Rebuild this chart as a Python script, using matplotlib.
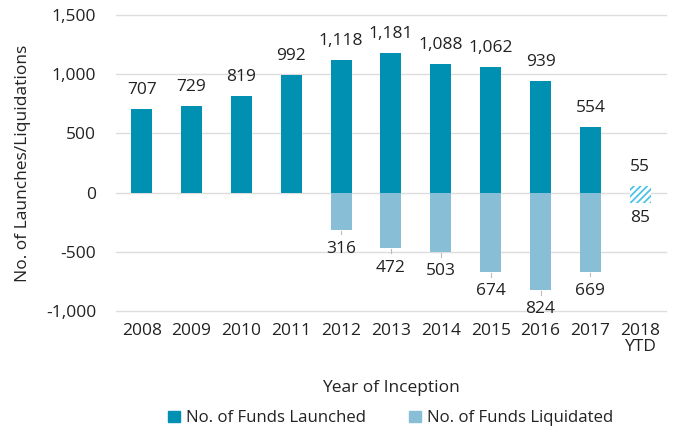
import matplotlib
matplotlib.use("Agg")
import matplotlib.pyplot as plt
import numpy as np

plt.rcParams['font.family'] = ['Open Sans', 'DejaVu Sans']
plt.rcParams['hatch.linewidth'] = 1.3

years = ['2008', '2009', '2010', '2011', '2012', '2013', '2014', '2015', '2016', '2017', '2018\nYTD']
launched = [707, 729, 819, 992, 1118, 1181, 1088, 1062, 939, 554, 55]
liquidated = [0, 0, 0, 0, 316, 472, 503, 674, 824, 669, 85]
yticks = [-1000, -500, 0, 500, 1000, 1500]

c_launch = '#0090B2'
c_liq = '#88BFD6'
c_hatch = '#4FC3E6'
txt = '#222222'
fs = 12.5

fig = plt.figure(figsize=(6.77, 4.30), dpi=100)
ax = fig.add_axes([0.171, 0.277, 0.813, 0.688])

x = np.arange(len(years))
w = 0.42
n = len(years)
for i in range(n):
    last = (i == n - 1)
    if last:
        ax.bar(x[i], launched[i], w, color='white', edgecolor=c_hatch, hatch='/////', linewidth=0, zorder=3)
        ax.bar(x[i], -liquidated[i], w, color='white', edgecolor=c_hatch, hatch='/////', linewidth=0, zorder=3)
    else:
        ax.bar(x[i], launched[i], w, color=c_launch, linewidth=0, zorder=3)
        if liquidated[i] > 0:
            ax.bar(x[i], -liquidated[i], w, color=c_liq, linewidth=0, zorder=3)

for i in range(n):
    ax.annotate(f'{launched[i]:,}', (x[i], launched[i]), xytext=(0, 8), textcoords='offset points',
                ha='center', va='bottom', fontsize=fs, color=txt)
    if liquidated[i] > 0:
        if i == n - 1:
            ax.annotate(f'{liquidated[i]:,}', (x[i], -liquidated[i]), xytext=(0, -5), textcoords='offset points',
                        ha='center', va='top', fontsize=fs, color=txt)
        else:
            ax.plot([x[i], x[i]], [-liquidated[i] - 8, -liquidated[i] - 38], color='#BBBBBB', lw=0.8, zorder=2)
            ax.annotate(f'{liquidated[i]:,}', (x[i], -liquidated[i]), xytext=(0, -8), textcoords='offset points',
                        ha='center', va='top', fontsize=fs, color=txt)

ax.set_xlim(-0.52, n - 0.48)
ax.set_ylim(-1000, 1500)
ax.set_yticks(yticks)
ax.set_yticklabels([f'{v:,}' for v in yticks], fontsize=fs, color=txt)
ax.set_xticks(x)
ax.set_xticklabels(years, fontsize=fs, color=txt, linespacing=1.0)
ax.tick_params(length=0, pad=9)
ax.tick_params(axis='y', pad=14)
for s in ax.spines.values():
    s.set_visible(False)
ax.grid(axis='y', color='#DDDDDD', lw=1, zorder=0)
ax.set_axisbelow(True)
for gl in ax.get_ygridlines():
    gl.set_clip_on(False)

ax.set_ylabel('No. of Launches/Liquidations', fontsize=fs, color=txt, labelpad=11)
ax.set_xlabel('Year of Inception', fontsize=fs, color=txt, labelpad=18)

from matplotlib.patches import Patch
handles = [Patch(color=c_launch, label='No. of Funds Launched'),
           Patch(color=c_liq, label='No. of Funds Liquidated')]
fig.legend(handles=handles, loc='center', bbox_to_anchor=(0.577, 0.027), ncol=2, frameon=False,
           fontsize=12.1, handlelength=0.7, handleheight=0.7, handletextpad=0.35, columnspacing=2.6,
           labelcolor=txt)

fig.savefig('out.png', dpi=100)
